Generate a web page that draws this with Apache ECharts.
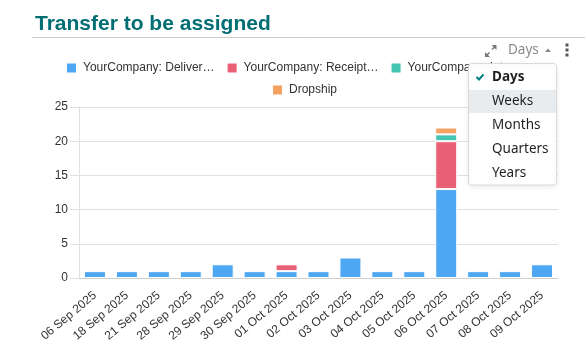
<!DOCTYPE html>
<html>
<head>
<meta charset="utf-8">
<script src="https://cdn.jsdelivr.net/npm/echarts@6/dist/echarts.min.js"></script>
<style>
html,body{margin:0;padding:0;background:#fff;}
#chart{width:585px;height:358px;}
</style>
</head>
<body>
<div id="chart"></div>
<script>
const categories = ['06 Sep 2025','18 Sep 2025','21 Sep 2025','28 Sep 2025','29 Sep 2025','30 Sep 2025','01 Oct 2025','02 Oct 2025','03 Oct 2025','04 Oct 2025','05 Oct 2025','06 Oct 2025','07 Oct 2025','08 Oct 2025','09 Oct 2025'];
const deliveries = [1,1,1,1,2,1,1,1,3,1,1,13,1,1,2];
const receipts   = [0,0,0,0,0,0,1,0,0,0,0,7,0,0,0];
const internal   = [0,0,0,0,0,0,0,0,0,0,0,1,0,0,0];
const dropship   = [0,0,0,0,0,0,0,0,0,0,0,1,0,0,0];
const seriesNames = ['YourCompany: Delivery Orders','YourCompany: Receipts','YourCompany: Internal Transfers','Dropship'];
const seriesColors = ['#4EA7F2','#EA6175','#43C5B1','#F4A261'];
const yTicks = [0,5,10,15,20,25];
const periodOptions = ['Days','Weeks','Months','Quarters','Years'];

const chart = echarts.init(document.getElementById('chart'));
const allData = [deliveries, receipts, internal, dropship];
const series = allData.map((d, i) => ({
  name: seriesNames[i],
  type: 'bar',
  stack: 'total',
  barWidth: 22,
  data: d.map(v => v === 0 ? null : v),
  itemStyle: { color: seriesColors[i], borderColor: '#ffffff', borderWidth: 1 },
  emphasis: { disabled: true }
}));

const legendText = {
  fontFamily: 'Liberation Sans, Arial, sans-serif',
  fontSize: 12,
  color: '#333',
  padding: [0, 0, 0, 2]
};
const trunc = n => n.length > 20 ? n.slice(0, 20) + '\u2026' : n;

const menuFont = '"Noto Sans", sans-serif';
const menuItems = periodOptions.map((p, i) => ({
  type: 'text',
  z: 103,
  style: {
    x: 492, y: 77 + i * 24,
    text: p,
    font: (i === 0 ? 'bold ' : '') + '13.5px ' + menuFont,
    fill: '#1f1f1f',
    verticalAlign: 'middle'
  }
}));

const legendBase = {
  padding: 0,
  itemWidth: 9, itemHeight: 9, itemGap: 13,
  icon: 'rect',
  itemStyle: { borderWidth: 0 },
  formatter: trunc,
  textStyle: legendText,
  selectedMode: false
};

chart.setOption({
  animation: false,
  grid: { left: 79, right: 27, top: 107, bottom: 80, containLabel: false },
  legend: [
    Object.assign({ data: seriesNames.slice(0, 3), left: 67, top: 62 }, legendBase),
    Object.assign({ data: seriesNames.slice(3), left: 273, top: 84 }, legendBase)
  ],
  xAxis: {
    type: 'category',
    data: categories,
    axisLine: { lineStyle: { color: '#cfcfcf' } },
    axisTick: { show: false },
    axisLabel: {
      rotate: 40,
      interval: 0,
      margin: 16,
      fontFamily: 'Liberation Sans, Arial, sans-serif',
      fontSize: 12,
      color: '#333'
    }
  },
  yAxis: {
    type: 'value',
    min: yTicks[0],
    max: yTicks[yTicks.length - 1],
    interval: 5,
    axisLine: { show: true, lineStyle: { color: '#e0e0e0' } },
    axisTick: { show: true, length: 9, lineStyle: { color: '#e0e0e0' } },
    splitLine: { lineStyle: { color: '#e0e0e0' } },
    axisLabel: {
      margin: 11,
      fontFamily: 'Liberation Sans, Arial, sans-serif',
      fontSize: 12,
      color: '#333'
    }
  },
  series: series,
  graphic: [
    { type: 'text', z: 100, style: { x: 35, y: 24, text: 'Transfer to be assigned', font: 'bold 21px "Liberation Sans", Arial, sans-serif', fill: '#016e74', verticalAlign: 'middle' } },
    { type: 'line', z: 100, shape: { x1: 32, y1: 37.5, x2: 585, y2: 37.5 }, style: { stroke: '#cccccc', lineWidth: 1 } },
    // expand icon
    { type: 'polyline', z: 100, shape: { points: [[486, 56], [489.5, 52.5]] }, style: { stroke: '#7a7a7a', lineWidth: 1.5 } },
    { type: 'polygon', z: 100, shape: { points: [[485, 57], [485, 52], [490, 57]] }, style: { fill: '#7a7a7a' } },
    { type: 'polyline', z: 100, shape: { points: [[492, 49.5], [495.5, 46]] }, style: { stroke: '#7a7a7a', lineWidth: 1.5 } },
    { type: 'polygon', z: 100, shape: { points: [[496.5, 45], [496.5, 50], [491.5, 45]] }, style: { fill: '#7a7a7a' } },
    // Days dropdown toggler
    { type: 'text', z: 100, style: { x: 508, y: 50.5, text: 'Days', font: '13.5px ' + menuFont, fill: '#8a8a8a', verticalAlign: 'middle' } },
    { type: 'polygon', z: 100, shape: { points: [[545, 52], [551, 52], [548, 48.5]] }, style: { fill: '#8a8a8a' } },
    // kebab
    { type: 'rect', z: 100, shape: { x: 565.5, y: 43.5, width: 3, height: 3 }, style: { fill: '#555' } },
    { type: 'rect', z: 100, shape: { x: 565.5, y: 48.5, width: 3, height: 3 }, style: { fill: '#555' } },
    { type: 'rect', z: 100, shape: { x: 565.5, y: 53.5, width: 3, height: 3 }, style: { fill: '#555' } },
    // dropdown menu
    { type: 'rect', z: 101, shape: { x: 468.5, y: 63.5, width: 88, height: 121.5, r: 3 }, style: { fill: '#fff', stroke: '#d9d9d9', lineWidth: 1, shadowBlur: 6, shadowColor: 'rgba(0,0,0,0.08)', shadowOffsetY: 2 } },
    { type: 'rect', z: 102, shape: { x: 469, y: 90, width: 87, height: 23 }, style: { fill: '#e9ecef' } },
    { type: 'polyline', z: 103, shape: { points: [[476.5, 77], [479, 79.5], [483.5, 74.5]] }, style: { stroke: '#017e84', lineWidth: 2, fill: null } }
  ].concat(menuItems)
});
</script>
</body>
</html>
